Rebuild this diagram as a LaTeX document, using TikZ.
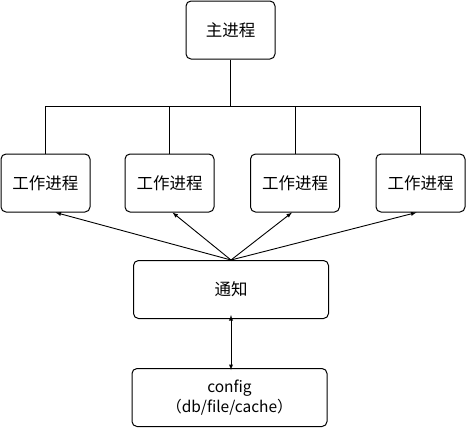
\documentclass[tikz,border=0pt]{standalone}
\usepackage{fontspec}
\setmainfont{Noto Sans CJK SC}

\begin{document}
\begin{tikzpicture}[
  x = 1pt, y = -1pt,
  every node/.style = {draw, rounded corners = 5pt, line width = 1pt,
                       font = \fontsize{16.5}{19}\selectfont, inner sep = 0pt},
  proc/.style = {minimum width = 89pt, minimum height = 58pt},
  wide/.style = {minimum width = 195pt, minimum height = 58pt, align = center},
  link/.style = {line width = 0.9pt},
  arr/.style = {link, -latex},
  ]
  \useasboundingbox (0,0) rectangle (466,429);
  \node[proc] (master) at (230.5,30) {主进程};
  \node[proc] (w1) at (45.5,183) {工作进程};
  \node[proc] (w2) at (169.5,183) {工作进程};
  \node[proc] (w3) at (295,183) {工作进程};
  \node[proc] (w4) at (420.5,183) {工作进程};
  \node[wide] (notify) at (231,289.5) {通知};
  \node[wide, font = \fontsize{15.5}{20}\selectfont] (config) at (229.5,397.5)
    {config\\（db/file/cache）};

  \coordinate (bus) at (230.5,106);
  \draw[link] (master) -- (bus);
  \foreach \w in {w1, w2, w3, w4}
    \draw[link] (\w.north) |- (bus);

  \draw[arr] (notify.north) -- ([xshift = 10pt]w1.south);
  \draw[arr] (notify.north) -- ([xshift = 3pt]w2.south);
  \draw[arr] (notify.north) -- ([xshift = -3pt]w3.south);
  \draw[arr] (notify.north) -- ([xshift = -4pt]w4.south);
  \draw[link, latex-latex] ([yshift = 4pt]notify.south) -- ([yshift = -2pt]config.north -| notify.south);
\end{tikzpicture}
\end{document}
